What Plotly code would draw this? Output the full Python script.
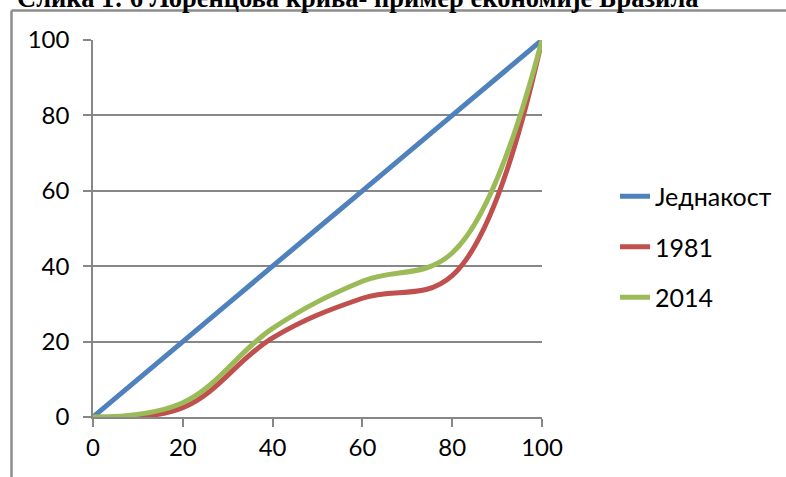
import plotly.graph_objects as go

x_vals = [0, 20, 40, 60, 80, 100]
equality = [0, 20, 40, 60, 80, 100]
y1981 = [0, 2.5, 21, 31.5, 37.5, 100]
y2014 = [0, 3.8, 23.5, 36, 43.5, 100]
names = ["Једнакост", "1981", "2014"]
colors = ["#4F81BD", "#C0504D", "#9BBB59"]
title_text = "Слика 1: 6 Лоренцова крива- пример економије Бразила"
ticks = [0, 20, 40, 60, 80, 100]

FONT = "Lato, 'Noto Sans', sans-serif"

fig = go.Figure()
for i, (name, ys) in enumerate(zip(names, [equality, y1981, y2014])):
    fig.add_trace(go.Scatter(
        x=x_vals, y=ys, mode="lines", name=name,
        line=dict(color=colors[i], width=5, shape="spline", smoothing=1.1),
        legendgroup=name,
    ))

axis_common = dict(
    range=[0, 100], tickvals=ticks, ticks="outside", ticklen=8, tickwidth=1.5,
    tickcolor="#878787", showline=True, linecolor="#878787", linewidth=1.5,
    tickfont=dict(family=FONT, size=24, color="#000"), zeroline=False,
)
fig.update_xaxes(**axis_common, showgrid=False)
fig.update_yaxes(**axis_common, showgrid=True, gridcolor="#878787", gridwidth=1.5,
                 ticklabelstandoff=9)

fig.update_layout(
    width=786, height=477,
    margin=dict(l=93, r=244, t=40, b=60),
    paper_bgcolor="white", plot_bgcolor="white",
    showlegend=True,
    legend=dict(xref="container", yref="container",
                x=615 / 786, y=1 - 247 / 477, xanchor="left", yanchor="middle",
                font=dict(family=FONT, size=25, color="#000"),
                tracegroupgap=15, traceorder="grouped",
                bgcolor="rgba(0,0,0,0)"),
    annotations=[dict(
        text="<b>" + title_text + "</b>", xref="paper", yref="paper",
        x=(15 - 93) / 449, y=1 + (40 - 15) / 377, xanchor="left", yanchor="bottom",
        showarrow=False, font=dict(family="'Liberation Serif', serif", size=26.5, color="#000"),
    )],
    shapes=[
        dict(type="line", xref="paper", yref="paper",
             x0=(11.5 - 93) / 449, x1=(800 - 93) / 449,
             y0=1 + (40 - 10.5) / 377, y1=1 + (40 - 10.5) / 377,
             line=dict(color="#8C8C8C", width=2.5)),
        dict(type="line", xref="paper", yref="paper",
             x0=(11.5 - 93) / 449, x1=(11.5 - 93) / 449,
             y0=1 + (40 - 10.5) / 377, y1=-0.3,
             line=dict(color="#8C8C8C", width=2.5)),
    ],
)

fig.write_html("out.html")
